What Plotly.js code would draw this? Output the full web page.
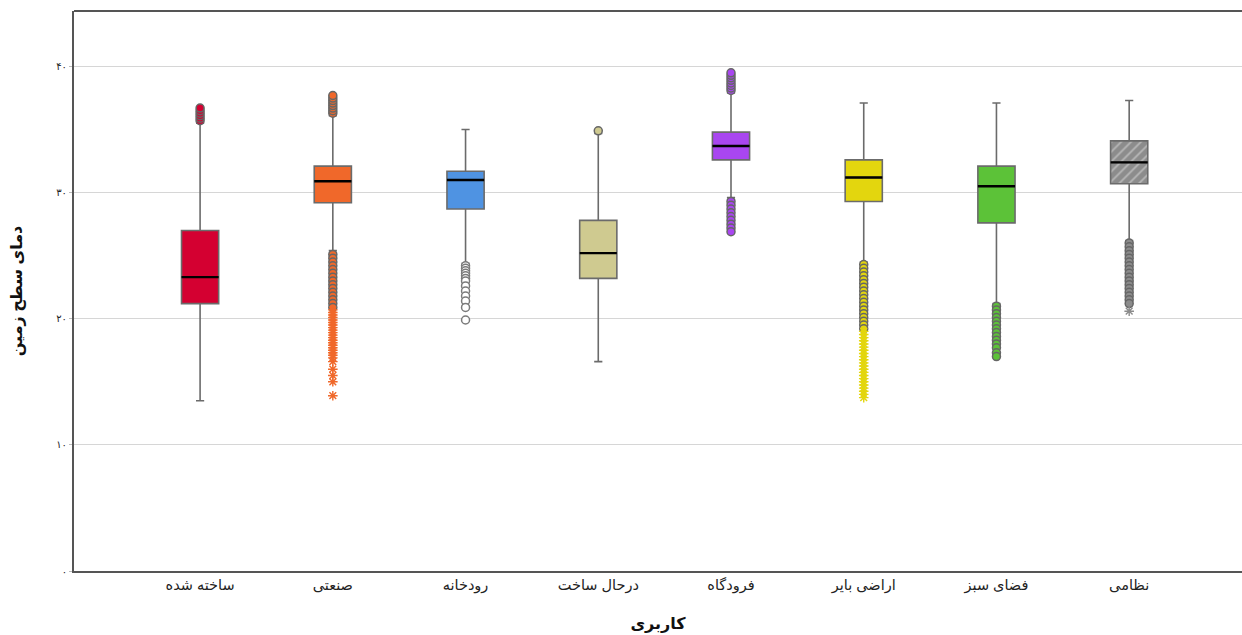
<!DOCTYPE html>
<html>
<head>
<meta charset="utf-8">
<script src="https://cdn.plot.ly/plotly-3.0.1.min.js"></script>
<style>html,body{margin:0;padding:0;background:#fff;}#chart{width:1242px;height:635px;}</style>
</head>
<body>
<div id="chart"></div>
<script>
// ---- data ----
var categories = ['ساخته شده', 'صنعتی', 'رودخانه', 'درحال ساخت', 'فرودگاه', 'اراضی بایر', 'فضای سبز', 'نظامی'];
var q1Values     = [21.2, 29.2, 28.7, 23.2, 32.6, 29.3, 27.6, 30.7];
var medianValues = [23.3, 30.9, 31.0, 25.2, 33.7, 31.2, 30.5, 32.4];
var q3Values     = [27.0, 32.1, 31.7, 27.8, 34.8, 32.6, 32.1, 34.1];
var lowerWhisker = [13.5, 25.4, 24.4, 16.6, 29.6, 24.5, 21.2, 26.2];
var upperWhisker = [35.5, 36.1, 35.0, 34.7, 37.9, 37.1, 37.1, 37.3];
var boxColors = ['#D40031', '#F0682A', '#4F93E2', '#CFCA90', '#A946F0', '#E3D60E', '#5CC238', '#8C8C8C'];

// outliers (circles) per category
var outlierCircles = [
  [35.7, 35.9, 36.1, 36.3, 36.5, 36.7],
  [36.3, 36.5, 36.7, 36.9, 37.1, 37.3, 37.5, 37.7,
   25.1, 24.8, 24.5, 24.2, 23.9, 23.6, 23.3, 23.0, 22.7, 22.4, 22.1, 21.8, 21.5, 21.2, 20.9],
  [24.2, 24.0, 23.8, 23.6, 23.4, 23.2, 23.0, 22.6, 22.2, 21.8, 21.4, 20.9, 19.9],
  [34.9],
  [38.1, 38.3, 38.5, 38.7, 38.9, 39.1, 39.3, 39.5,
   29.3, 29.0, 28.7, 28.4, 28.1, 27.8, 27.5, 27.2, 26.9],
  [24.3, 24.0, 23.7, 23.4, 23.1, 22.8, 22.5, 22.2, 21.9, 21.6, 21.3, 21.0, 20.7, 20.4, 20.1, 19.8, 19.5, 19.2],
  [21.0, 20.7, 20.4, 20.1, 19.8, 19.5, 19.2, 18.9, 18.6, 18.3, 18.0, 17.7, 17.3, 17.0],
  [26.0, 25.7, 25.4, 25.1, 24.8, 24.5, 24.2, 23.9, 23.6, 23.3, 23.0, 22.7, 22.4, 22.1, 21.8, 21.5, 21.2]
];
// extreme values (stars) per category
var extremeStars = [
  [],
  [20.7, 20.5, 20.3, 20.1, 19.9, 19.7, 19.5, 19.3, 19.1, 18.9, 18.7, 18.5, 18.3, 18.1, 17.9, 17.7,
   17.5, 17.3, 17.1, 16.9, 16.6, 16.0, 15.5, 15.0, 13.9],
  [],
  [],
  [],
  [19.0, 18.75, 18.5, 18.25, 18.0, 17.75, 17.5, 17.25, 17.0, 16.75, 16.5, 16.25, 16.0, 15.75, 15.5,
   15.25, 15.0, 14.75, 14.5, 14.25, 14.0, 13.75],
  [],
  [20.6]
];
var openOutliers = [false, false, true, false, false, false, false, false];
var hatchedBox = [false, false, false, false, false, false, false, true];

var yTickVals = [0, 10, 20, 30, 40];
var yTickText = ['۰', '۱۰', '۲۰', '۳۰', '۴۰'];
var xTitle = 'کاربری';
var yTitle = 'دمای سطح زمین';

// ---- traces ----
var traces = [];
var BOXW = 0.28;
var FONT = 'Arial, "Liberation Sans", "DejaVu Sans", sans-serif';

categories.forEach(function (c, i) {
  if (hatchedBox[i]) {
    traces.push({
      type: 'bar', x: [c], base: [q1Values[i]], y: [q3Values[i] - q1Values[i]],
      width: BOXW, hoverinfo: 'skip', showlegend: false,
      marker: { color: boxColors[i], line: { width: 0 },
        pattern: { shape: '/', fgcolor: '#b8b8b8', bgcolor: boxColors[i], size: 7, solidity: 0.25 } }
    });
  }
});

categories.forEach(function (c, i) {
  traces.push({
    type: 'box', x: [c], q1: [q1Values[i]], median: [medianValues[i]], q3: [q3Values[i]],
    lowerfence: [lowerWhisker[i]], upperfence: [upperWhisker[i]],
    width: BOXW, whiskerwidth: 0.22, boxpoints: false, showlegend: false, hoverinfo: 'skip',
    fillcolor: hatchedBox[i] ? 'rgba(0,0,0,0)' : boxColors[i],
    line: { color: '#6b6b6b', width: 1.6 }
  });
});

// median lines in black
categories.forEach(function (c, i) {
  var m = medianValues[i];
  traces.push({
    type: 'box', x: [c], q1: [m], median: [m], q3: [m], lowerfence: [m], upperfence: [m],
    width: BOXW, whiskerwidth: 0, boxpoints: false, showlegend: false, hoverinfo: 'skip',
    fillcolor: 'rgba(0,0,0,0)', line: { color: '#000000', width: 2.4 }
  });
});

categories.forEach(function (c, i) {
  var oc = outlierCircles[i];
  if (oc.length) {
    traces.push({
      type: 'scatter', mode: 'markers', x: oc.map(function () { return c; }), y: oc,
      showlegend: false, hoverinfo: 'skip',
      marker: { symbol: 'circle', size: 8,
        color: openOutliers[i] ? '#ffffff' : boxColors[i],
        line: { color: openOutliers[i] ? '#7a7a7a' : '#666666', width: 1.5 } }
    });
  }
  var st = extremeStars[i];
  if (st.length) {
    traces.push({
      type: 'scatter', mode: 'markers', x: st.map(function () { return c; }), y: st,
      showlegend: false, hoverinfo: 'skip',
      marker: { symbol: 'asterisk-open', size: 8, color: boxColors[i], line: { color: boxColors[i], width: 1.4 } }
    });
  }
});

var layout = {
  width: 1242, height: 635,
  margin: { l: 74, r: 0, t: 11, b: 64 },
  paper_bgcolor: '#ffffff', plot_bgcolor: '#ffffff',
  showlegend: false,
  boxmode: 'overlay', barmode: 'overlay',
  font: { family: FONT, color: '#222' },
  xaxis: {
    type: 'category', categoryorder: 'array', categoryarray: categories,
    range: [-0.95, 7.85], showgrid: false, zeroline: false,
    showline: true, mirror: false, linecolor: '#555', linewidth: 2,
    ticks: '', tickfont: { family: FONT, size: 14.5, color: '#222' },
    title: { text: xTitle, font: { family: FONT, size: 16, color: '#111', weight: 'bold' }, standoff: 24 }
  },
  yaxis: {
    range: [0, 44.4], tickvals: yTickVals, ticktext: yTickText,
    showgrid: true, gridcolor: '#d6d6d6', gridwidth: 1, zeroline: false,
    showline: true, mirror: false, linecolor: '#555', linewidth: 2,
    ticks: 'outside', ticklen: 3, tickcolor: '#bbb',
    tickfont: { family: FONT, size: 10, color: '#222' },
    title: { text: yTitle, font: { family: FONT, size: 16, color: '#111', weight: 'bold' }, standoff: 30 }
  },
  shapes: [{ type: 'line', xref: 'paper', yref: 'paper', x0: 0, x1: 1, y0: 1, y1: 1,
             line: { color: '#555', width: 2 } }]
};

Plotly.newPlot('chart', traces, layout, { staticPlot: true, displayModeBar: false });
</script>
</body>
</html>
